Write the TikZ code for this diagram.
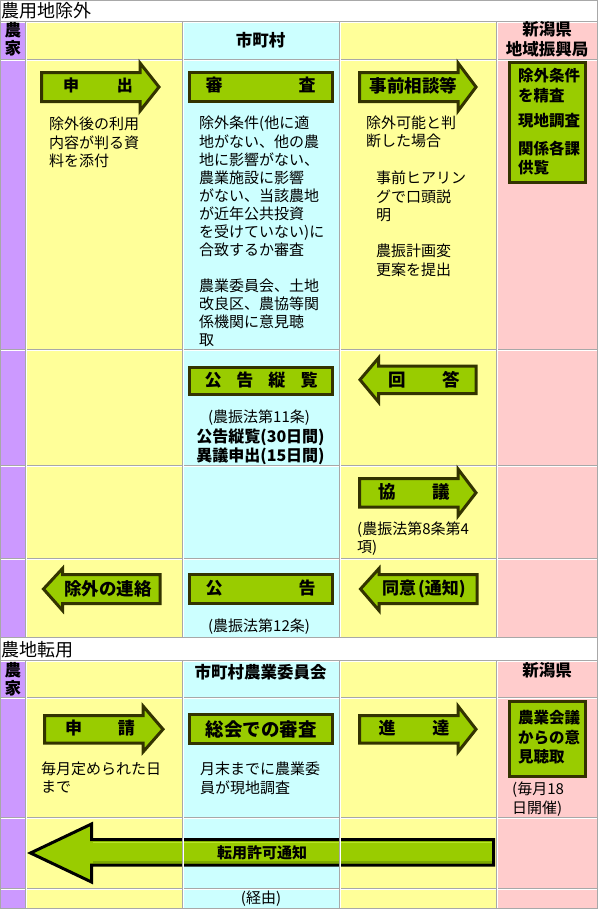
\documentclass[tikz,border=0pt]{standalone}
\usepackage{fontspec}
\setmainfont{Noto Sans CJK JP}
\newcommand\myfs[2]{\fontsize{#1}{#2}\selectfont}
\definecolor{cpur}{RGB}{204,153,255}
\definecolor{cyel}{RGB}{255,255,153}
\definecolor{ccya}{RGB}{204,255,255}
\definecolor{cpnk}{RGB}{255,204,204}
\definecolor{cgrn}{RGB}{153,204,0}
\definecolor{cdrk}{RGB}{51,51,0}
\definecolor{cgry}{RGB}{168,168,168}
\definecolor{clgt}{RGB}{185,230,40}
\definecolor{cdgn}{RGB}{125,170,0}
\newcommand\RArr[7]{\path[garrow] (#1,#4) -- (#2,#4) -- (#2,#6) -- (#3,{(#4+#5)/2}) -- (#2,#7) -- (#2,#5) -- (#1,#5) -- cycle;}
\newcommand\LArr[7]{\path[garrow] (#1,{(#4+#5)/2}) -- (#2,#6) -- (#2,#4) -- (#3,#4) -- (#3,#5) -- (#2,#5) -- (#2,#7) -- cycle;}
\begin{document}
\begin{tikzpicture}[x=1pt,y=-1pt,
  gl/.style={draw=cgry,line width=1pt},
  wl/.style={draw=white,line width=1pt},
  garrow/.style={fill=cgrn,draw=cdrk,line width=3pt,line join=miter},
  gbox/.style={fill=cgrn,draw=cdrk,line width=3pt},
  lbl/.style={inner sep=0pt,font=\bfseries\myfs{#1}{20}},
  lbl/.default=17,
  hdr/.style={inner sep=0pt,align=center,font=\bfseries\myfs{16.5}{#1}},
  hdr/.default=20,
  para/.style={anchor=north west,inner sep=0pt,align=left,font=\myfs{15}{#1}},
  para/.default=18,
  bpara/.style={anchor=north west,inner sep=0pt,align=left,font=\bfseries\myfs{15.5}{#1}},
  bpara/.default=18,
  ctr/.style={inner sep=0pt,font=\myfs{15}{18}},
  bctr/.style={inner sep=0pt,font=\bfseries\myfs{16}{18}},
  ttl/.style={anchor=west,inner sep=0pt,font=\myfs{18}{20}}
]
\useasboundingbox (0,0) rectangle (599,911);
\fill[white] (0,0) rectangle (599,911);
% backgrounds
\foreach \ya/\yb in {21.5/637.5, 660.5/909}{
  \fill[cpur] (0,\ya) rectangle (25.5,\yb);
  \fill[cyel] (25.5,\ya) rectangle (182.5,\yb);
  \fill[ccya] (182.5,\ya) rectangle (339.5,\yb);
  \fill[cyel] (339.5,\ya) rectangle (496.5,\yb);
  \fill[cpnk] (496.5,\ya) rectangle (597,\yb);
}
% grid
\foreach \y in {21.5,59.5,349.5,465.5,558.5,660.5,697.5,817.5,888.5}{
  \draw[wl] (0,\y+1) -- (597,\y+1);
}
\foreach \y in {0.5,21.5,59.5,349.5,465.5,558.5,637.5,660.5,697.5,817.5,888.5,908.5}{
  \draw[gl] (0,\y) -- (597,\y);
}
\foreach \x in {25.5,182.5,339.5,496.5}{
  \draw[wl] (\x+1,22) -- (\x+1,637);
  \draw[wl] (\x+1,661) -- (\x+1,908);
  \draw[gl] (\x,21.5) -- (\x,637.5);
  \draw[gl] (\x,660.5) -- (\x,908.5);
}
\draw[gl] (0.5,0) -- (0.5,909);
\draw[gl] (597,0) -- (597,909);

% titles and headers
\node[ttl] (ttla) at (1,11) {農用地除外};
\node[ttl] (ttlb) at (1,650) {農地転用};
\node[hdr=17.5] (hfa) at (13,39.5) {農\\家};
\node[hdr=17.5] (hfb) at (13,679) {農\\家};
\node[hdr] (hca) at (260.5,40) {市町村};
\node[hdr] (hpa) at (547,39.5) {新潟県\\地域振興局};
\node[hdr] (hcb) at (260.5,672) {市町村農業委員会};
\node[hdr] (hpb) at (547,670) {新潟県};

% arrows and boxes
\RArr{41.5}{140}{159}{72.5}{101.5}{63}{111}
\RArr{359.5}{458}{476}{72.5}{101.5}{63}{111}
\LArr{360}{378.5}{476}{366}{393.5}{358}{402}
\RArr{359.5}{458}{476}{478.5}{507}{469}{516}
\LArr{43.5}{62.5}{160}{574.5}{603.5}{568.5}{610.5}
\LArr{360.5}{379}{477}{574.5}{603.5}{568.5}{610.5}
\RArr{44.5}{143}{163}{715.5}{743}{706}{752}
\RArr{359.5}{458}{476}{715.5}{743}{706}{752}
\draw[gbox] (189.5,72.5) rectangle (332.5,101.5);
\draw[gbox] (189.5,367) rectangle (332.5,394.5);
\draw[gbox] (189.5,574.5) rectangle (332.5,603.5);
\draw[gbox] (189.5,714.5) rectangle (332.5,743.5);
\draw[gbox] (509,62.5) rectangle (585.5,182.5);
\draw[gbox] (509,701.5) rectangle (585.5,776.5);
% big arrow
\path[garrow,draw=black] (30.5,853) -- (91.5,824) -- (91.5,839.5) -- (493.5,839.5) -- (493.5,865) -- (91.5,865) -- (91.5,882) -- cycle;
\draw[draw=clgt,line width=1.5pt] (93,842.5) -- (492,842.5);
\draw[draw=cdgn,line width=1.5pt] (93,862) -- (492,862);
\foreach \x in {182.5,339.5}{
  \draw[gl] (\x,838) -- (\x,867);
  \draw[wl] (\x+1,838) -- (\x+1,867);
}

% arrow / box labels
\node[lbl=16] (la) at (98,85.5) {申\hspace{38pt}出};
\node[lbl] (lb) at (260.5,85.5) {審\hspace{76pt}査};
\node[lbl=17.5] (lc) at (413.5,85.5) {事前相談等};
\node[lbl] (ld) at (261,380.5) {公\hspace{15pt}告\hspace{15pt}縦\hspace{15pt}覧};
\node[lbl=17.5] (le) at (424,379.5) {回\hspace{37pt}答};
\node[lbl=17.5] (lf) at (414,492) {協\hspace{37pt}議};
\node[lbl=17.5] (lg) at (108,588.5) {除外の連絡};
\node[lbl] (lh) at (260.5,588.5) {公\hspace{76pt}告};
\node[lbl] (li) at (424,588.5) {同意\hspace{2pt}(通知)};
\node[lbl] (lj) at (100,728) {申\hspace{36pt}請};
\node[lbl=18.5] (lk) at (261,729) {総会での審査};
\node[lbl] (ll) at (414,728) {進\hspace{37pt}達};
\node[lbl=15] (lm) at (262,852.5) {転用許可通知};

% pink box texts
\node[bpara] (pa) at (518,68) {\strut 除外条件\\を精査};
\node[bpara] (pb) at (518,113) {\strut 現地調査};
\node[bpara=19] (pc) at (518,141) {\strut 関係各課\\供覧};
\node[bpara=19.5] (pd) at (518,710) {\strut 農業会議\\からの意\\見聴取};

% descriptive texts
\node[para] (da) at (49,117) {\strut 除外後の利用\\内容が判る資\\料を添付};
\node[para] (db) at (199,115.5) {\strut 除外条件(他に適\\地がない、他の農\\地に影響がない、\\農業施設に影響\\がない、当該農地\\が近年公共投資\\を受けていない)に\\合致するか審査\\[18pt]農業委員会、土地\\改良区、農協等関\\係機関に意見聴\\取};
\node[para] (dc) at (366,115.5) {\strut 除外可能と判\\断した場合};
\node[para] (dd) at (376,171) {\strut 事前ヒアリン\\グで口頭説\\明};
\node[para] (de) at (376,243.5) {\strut 農振計画変\\更案を提出};
\node[ctr] (df) at (259,418) {(農振法第11条)};
\node[bctr] (dg) at (260.5,437) {公告縦覧(30日間)};
\node[bctr] (dh) at (260.5,456) {異議申出(15日間)};
\node[para] (di) at (357,522) {\strut (農振法第8条第4\\項)};
\node[ctr] (dj) at (259,627) {(農振法第12条)};
\node[para] (dk) at (41,762) {\strut 毎月定められた日\\まで};
\node[para] (dl) at (200,762) {\strut 月末までに農業委\\員が現地調査};
\node[para=19] (dm) at (512,781) {\strut (毎月18\\日開催)};
\node[ctr] (dn) at (261,899) {(経由)};
\end{tikzpicture}
\end{document}
